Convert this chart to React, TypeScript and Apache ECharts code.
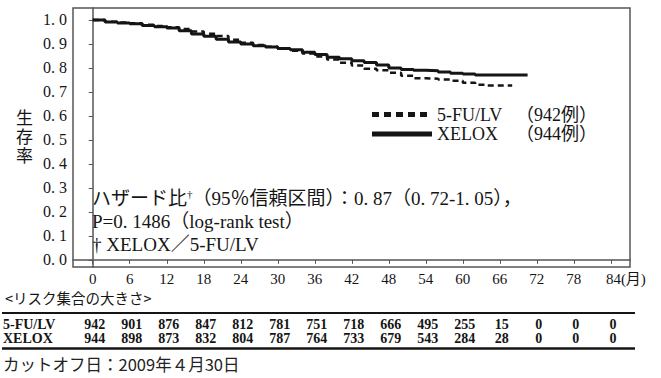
import React, { useEffect, useRef } from "react";
import * as echarts from "echarts";

// Kaplan–Meier estimates (month, survival probability)
const XELOX_T = [0, 2, 4, 6, 8, 10, 12, 14, 16, 18, 20, 22, 24, 26, 28, 30, 32, 34, 36, 38, 40, 42, 44, 46, 48, 50, 52, 54, 56, 58, 60, 62, 64, 66, 70.5];
const XELOX_S = [1.0, 0.992, 0.987, 0.984, 0.977, 0.972, 0.967, 0.955, 0.942, 0.932, 0.92, 0.908, 0.9, 0.893, 0.887, 0.881, 0.876, 0.866, 0.856, 0.845, 0.838, 0.83, 0.823, 0.812, 0.8, 0.794, 0.79, 0.788, 0.783, 0.778, 0.775, 0.771, 0.771, 0.771, 0.771];
const FULV_T = [0, 2, 4, 6, 8, 10, 12, 14, 16, 18, 20, 22, 24, 26, 28, 30, 32, 34, 36, 38, 40, 42, 44, 46, 48, 50, 52, 54, 56, 58, 60, 62, 64, 66, 68];
const FULV_S = [1.0, 0.993, 0.99, 0.986, 0.98, 0.975, 0.97, 0.962, 0.952, 0.943, 0.933, 0.918, 0.905, 0.896, 0.888, 0.88, 0.872, 0.86, 0.848, 0.835, 0.822, 0.81, 0.797, 0.79, 0.78, 0.768, 0.757, 0.755, 0.752, 0.747, 0.738, 0.73, 0.727, 0.727, 0.727];

// Axis ticks
const MONTH_TICKS = [0, 6, 12, 18, 24, 30, 36, 42, 48, 54, 60, 66, 72, 78, 84];
const SURV_TICKS = [0, 0.1, 0.2, 0.3, 0.4, 0.5, 0.6, 0.7, 0.8, 0.9, 1.0];

// Number at risk
const RISK_FULV = [942, 901, 876, 847, 812, 781, 751, 718, 666, 495, 255, 15, 0, 0, 0];
const RISK_XELOX = [944, 898, 873, 832, 804, 787, 764, 733, 679, 543, 284, 28, 0, 0, 0];

const SERIF = '"Liberation Serif", "DejaVu Serif", "Noto Sans CJK JP", serif';
const GOTHIC = '"Noto Sans CJK JP", "Noto Sans", sans-serif';
const INK = "#151515";

const zip = (t: number[], s: number[]) => t.map((m, i) => [m, s[i]]);

export default function App() {
  const ref = useRef<HTMLDivElement>(null);

  useEffect(() => {
    if (!ref.current) return;
    const chart = echarts.init(ref.current, null, { renderer: "svg" });

    chart.setOption({
      animation: false,
      grid: {
        left: 73,
        right: 31,
        top: 8,
        bottom: 111,
        show: true,
        borderColor: "#555",
        borderWidth: 1.5,
      },
      xAxis: {
        type: "value",
        min: -3.2,
        max: 87.1,
        splitLine: { show: false },
        axisLine: { lineStyle: { color: "#555", width: 1.5 } },
        axisTick: { customValues: MONTH_TICKS, length: 4, lineStyle: { color: "#555" } },
        axisLabel: {
          customValues: MONTH_TICKS,
          margin: 4,
          color: INK,
          fontFamily: SERIF,
          fontSize: 15,
          formatter: (v: number) => (v === 84 ? "{p|}84{u|(月)}" : String(v)),
          rich: {
            p: { width: 30 },
            u: { fontFamily: SERIF, fontSize: 15, color: INK },
          },
        },
      },
      yAxis: {
        type: "value",
        min: -0.03,
        max: 1.05,
        name: "生\n存\n率",
        nameLocation: "middle",
        nameRotate: 0,
        nameGap: 40,
        nameTextStyle: { fontFamily: SERIF, fontSize: 17, color: INK, lineHeight: 19 },
        splitLine: { show: false },
        axisLine: { lineStyle: { color: "#555", width: 1.5 } },
        axisTick: { customValues: SURV_TICKS, length: 4, lineStyle: { color: "#555" } },
        axisLabel: {
          customValues: SURV_TICKS,
          margin: 6,
          color: INK,
          fontFamily: SERIF,
          fontSize: 16,
          formatter: (v: number) => v.toFixed(1).replace(".", ". "),
        },
      },
      series: [
        {
          name: "5-FU/LV",
          type: "line",
          step: "end",
          showSymbol: false,
          data: zip(FULV_T, FULV_S),
          lineStyle: { color: INK, width: 2.5, type: [6, 4] },
        },
        {
          name: "XELOX",
          type: "line",
          step: "end",
          showSymbol: false,
          data: zip(XELOX_T, XELOX_S),
          lineStyle: { color: INK, width: 3 },
        },
      ],
    });

    const xs = MONTH_TICKS.map((m) => chart.convertToPixel({ xAxisIndex: 0 }, m) as number);

    const txt = (x: number, y: number, text: string, extra: any = {}) => ({
      type: "text",
      x,
      y,
      style: {
        text,
        fill: INK,
        fontFamily: SERIF,
        fontSize: 19,
        verticalAlign: "middle",
        ...extra,
      },
    });

    const tableFont = { fontSize: 14, fontWeight: "bold", lineHeight: 13 };
    const legendFont = { fontSize: 18, lineHeight: 18 };

    const graphics: any[] = [
      // legend
      {
        type: "line",
        shape: { x1: 372, y1: 114.5, x2: 432, y2: 114.5 },
        style: { stroke: INK, lineWidth: 5, lineDash: [7, 5] },
      },
      {
        type: "line",
        shape: { x1: 372, y1: 134, x2: 432, y2: 134 },
        style: { stroke: INK, lineWidth: 5 },
      },
      txt(437, 114.5, "5-FU/LV", legendFont),
      txt(516, 114.5, "（942例）", legendFont),
      txt(437, 134, "XELOX", legendFont),
      txt(516, 134, "（944例）", legendFont),
      // statistics note
      {
        type: "text",
        x: 92,
        y: 198,
        style: {
          text: "ハザード比{sup|†}（95％信頼区間）：0. 87（0. 72-1. 05），",
          fill: INK,
          fontFamily: SERIF,
          fontSize: 19,
          verticalAlign: "middle",
          rich: {
            sup: { fontSize: 11, fontFamily: SERIF, fill: INK, padding: [0, 0, 9, 0] },
          },
        },
      },
      txt(92, 221, "P=0. 1486（log-rank test）"),
      txt(92, 244, "† XELOX／5-FU/LV"),
      // number-at-risk table
      txt(5, 297.5, "<リスク集合の大きさ>", { fontFamily: GOTHIC, fontSize: 14.5, lineHeight: 14 }),
      {
        type: "line",
        shape: { x1: 2, y1: 313, x2: 635, y2: 313 },
        style: { stroke: INK, lineWidth: 2 },
      },
      {
        type: "line",
        shape: { x1: 2, y1: 348.5, x2: 635, y2: 348.5 },
        style: { stroke: INK, lineWidth: 2.5 },
      },
      txt(3, 324, "5-FU/LV", tableFont),
      txt(3, 338, "XELOX", tableFont),
      ...RISK_FULV.map((n, i) =>
        txt(xs[i] + 2, 324, String(n), { ...tableFont, align: "center" })
      ),
      ...RISK_XELOX.map((n, i) =>
        txt(xs[i] + 2, 338, String(n), { ...tableFont, align: "center" })
      ),
      txt(3, 364, "カットオフ日：2009年４月30日", { fontFamily: GOTHIC, fontSize: 16.5, fill: "#222" }),
    ];

    chart.setOption({ graphic: graphics });

    return () => chart.dispose();
  }, []);

  return (
    <div
      ref={ref}
      style={{ position: "absolute", left: 0, top: 0, width: 661, height: 378, background: "#fff" }}
    />
  );
}
